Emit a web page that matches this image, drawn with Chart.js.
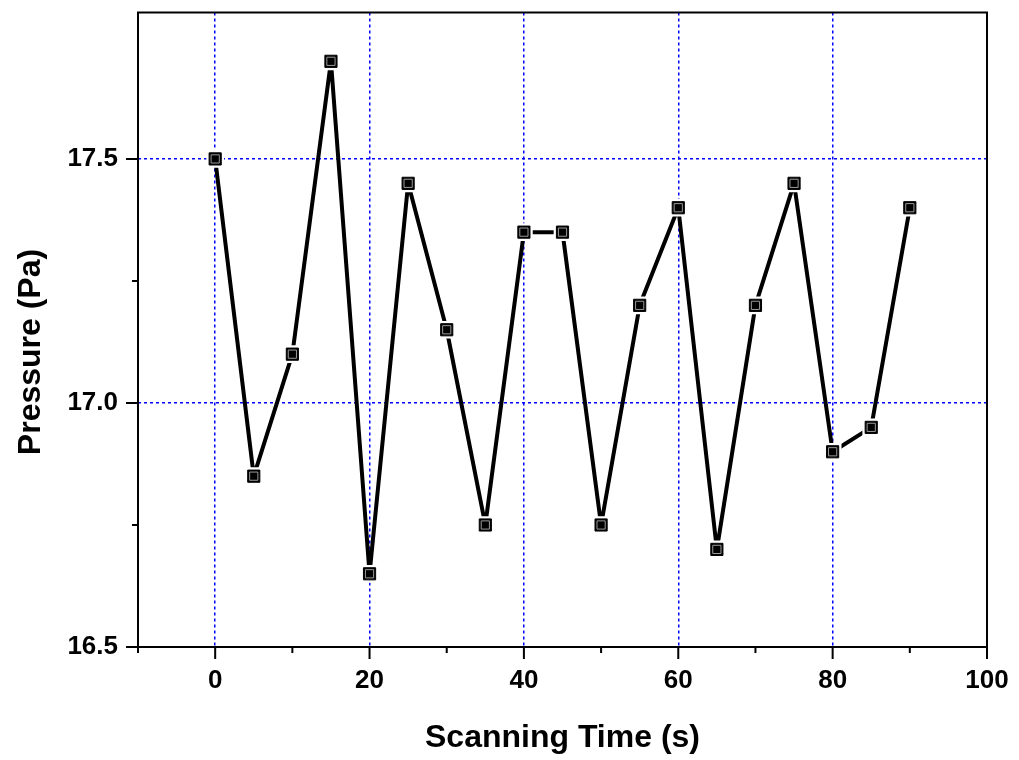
<!DOCTYPE html>
<html>
<head>
<meta charset="utf-8">
<script src="https://cdn.jsdelivr.net/npm/chart.js@4/dist/chart.umd.min.js"></script>
<style>
  body { margin: 0; background: #fff; }
  #wrap { width: 1019px; height: 760px; position: relative; }
</style>
</head>
<body>
<div id="wrap"><canvas id="pressureChart"></canvas></div>
<script>
const scanTimes = [0, 5, 10, 15, 20, 25, 30, 35, 40, 45, 50, 55, 60, 65, 70, 75, 80, 85, 90];
const pressures = [17.5, 16.85, 17.1, 17.7, 16.65, 17.45, 17.15, 16.75, 17.35, 17.35, 16.75, 17.2, 17.4, 16.7, 17.2, 17.45, 16.9, 16.95, 17.4];
const xMajorTicks = [0, 20, 40, 60, 80, 100];
const yMajorTicks = [16.5, 17.0, 17.5];
const xGridValues = [0, 20, 40, 60, 80];
const yGridValues = [17.0, 17.5];

const FONT = '"Liberation Sans", Arial, sans-serif';
const points = scanTimes.map((t, i) => ({ x: t, y: pressures[i] }));

function near(a, b) { return Math.abs(a - b) < 1e-6; }
function isIn(list, v) { return list.some(x => near(x, v)); }
function noPadding(s) {
  s.paddingTop = 0; s.paddingBottom = 0; s.paddingLeft = 0; s.paddingRight = 0;
}

// frame, outward ticks and the rotated y title
const framePlugin = {
  id: 'frame',
  afterDraw(chart) {
    const ctx = chart.ctx;
    const area = chart.chartArea;
    const xs = chart.scales.x;
    const ys = chart.scales.y;
    ctx.save();
    ctx.strokeStyle = '#000';
    ctx.lineWidth = 2;
    ctx.strokeRect(area.left, area.top, area.right - area.left, area.bottom - area.top);

    ctx.beginPath();
    xs.ticks.forEach(t => {
      const px = xs.getPixelForValue(t.value);
      const len = isIn(xMajorTicks, t.value) ? 12 : 6;
      ctx.moveTo(px, area.bottom);
      ctx.lineTo(px, area.bottom + len);
    });
    ys.ticks.forEach(t => {
      const py = ys.getPixelForValue(t.value);
      const len = isIn(yMajorTicks, t.value) ? 12 : 6;
      ctx.moveTo(area.left, py);
      ctx.lineTo(area.left - len, py);
    });
    ctx.stroke();

    ctx.translate(31, 352);
    ctx.rotate(-Math.PI / 2);
    ctx.fillStyle = '#000';
    ctx.font = 'bold 32px ' + FONT;
    ctx.textAlign = 'center';
    ctx.textBaseline = 'middle';
    ctx.fillText('Pressure (Pa)', 0, 0);
    ctx.restore();
  }
};

const canvas = document.getElementById('pressureChart');
new Chart(canvas.getContext('2d'), {
  type: 'line',
  data: {
    datasets: [
      { // faint inner ring of the markers
        data: points, showLine: false, pointStyle: 'rect',
        pointRadius: 5.8, pointBackgroundColor: '#000',
        pointBorderColor: '#9a9a9a', pointBorderWidth: 1
      },
      { // marker body
        data: points, showLine: false, pointStyle: 'rect',
        pointRadius: 8.6, pointBackgroundColor: '#000',
        pointBorderColor: '#000', pointBorderWidth: 1
      },
      { // white gap between line and marker
        data: points, showLine: false, pointStyle: 'rect',
        pointRadius: 12.5, pointBackgroundColor: '#fff',
        pointBorderWidth: 0
      },
      {
        data: points, borderColor: '#000', borderWidth: 4,
        borderJoinStyle: 'round',
        pointRadius: 0, tension: 0, fill: false
      }
    ]
  },
  options: {
    responsive: true,
    maintainAspectRatio: false,
    animation: false,
    layout: { padding: { top: 11, right: 32, left: 0, bottom: 0 } },
    plugins: { legend: { display: false }, tooltip: { enabled: false } },
    scales: {
      x: {
        type: 'linear', min: -10, max: 100,
        afterFit: s => { s.height = 113; noPadding(s); },
        ticks: {
          stepSize: 10, autoSkip: false, maxRotation: 0, padding: 18,
          color: '#000', font: { family: FONT, size: 26, weight: 'bold' },
          callback: v => isIn(xMajorTicks, v) ? String(v) : ''
        },
        grid: {
          drawTicks: false, lineWidth: 1.5, borderDash: [3, 3],
          color: c => (c.tick && isIn(xGridValues, c.tick.value)) ? '#0000ff' : 'rgba(0,0,0,0)'
        },
        border: { display: false, dash: [3, 3] },
        title: {
          display: true, text: 'Scanning Time (s)', color: '#000',
          font: { family: FONT, size: 32, weight: 'bold' },
          padding: { top: 0, bottom: 3 }
        }
      },
      y: {
        min: 16.5, max: 17.8,
        afterFit: s => { s.width = 138; noPadding(s); },
        afterBuildTicks: s => {
          s.ticks = s.ticks.filter(t => near(t.value * 4, Math.round(t.value * 4)));
        },
        ticks: {
          stepSize: 0.25, autoSkip: false, padding: 20,
          color: '#000', font: { family: FONT, size: 26, weight: 'bold' },
          callback: v => isIn(yMajorTicks, v) ? Number(v).toFixed(1) : ''
        },
        grid: {
          drawTicks: false, lineWidth: 1.5, borderDash: [3, 3],
          color: c => (c.tick && isIn(yGridValues, c.tick.value)) ? '#0000ff' : 'rgba(0,0,0,0)'
        },
        border: { display: false, dash: [3, 3] },
        title: { display: false }
      }
    }
  },
  plugins: [framePlugin]
});
</script>
</body>
</html>
